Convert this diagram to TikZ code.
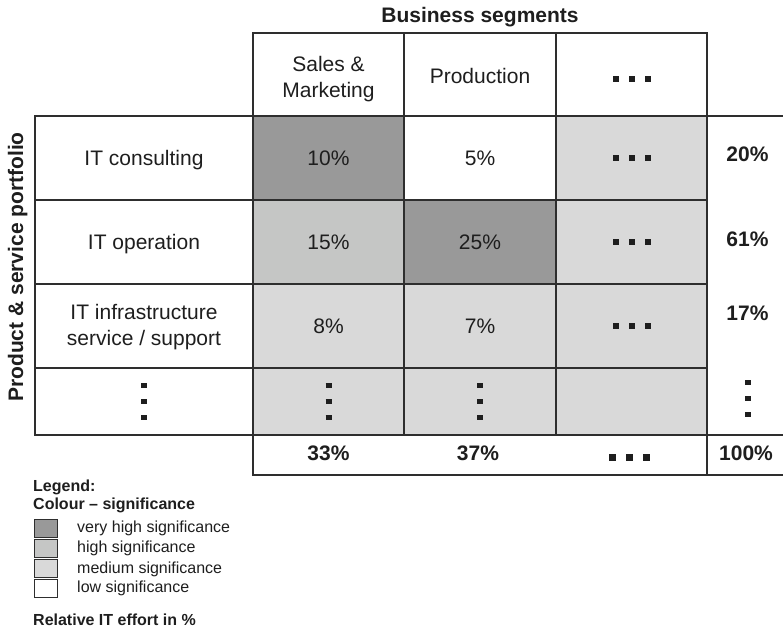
\documentclass[tikz,border=0pt]{standalone}
\usepackage{fontspec}
\setmainfont{Liberation Sans}
\definecolor{vhigh}{HTML}{999999}
\definecolor{high}{HTML}{C5C6C5}
\definecolor{med}{HTML}{D9D9D9}
\definecolor{ink}{HTML}{1E1E1E}
\definecolor{rulec}{HTML}{2E2E2E}
\newcommand\hsq[1]{\hbox{\rule{#1}{#1}\kern10pt\rule{#1}{#1}\kern10pt\rule{#1}{#1}}}
\newcommand\vsq{\vbox{\offinterlineskip\hbox{\rule{6pt}{5pt}}\kern11pt\hbox{\rule{6pt}{5pt}}\kern11pt\hbox{\rule{6pt}{5pt}}}}
\begin{document}
\begin{tikzpicture}[x=1pt,y=-1pt,
  cell/.style={draw=rulec, line width=1.2pt, inner sep=0pt, outer sep=0pt, minimum height=84pt},
  txt/.style={inner sep=0pt, text=ink, font=\fontsize{21}{26}\selectfont, text height=15pt, text depth=0pt},
  btxt/.style={txt, font=\fontsize{21}{26}\selectfont\bfseries},
  mtxt/.style={inner sep=0pt, text=ink, font=\fontsize{21}{26}\selectfont, align=center},
  dots/.style={inner sep=0pt, text=ink},
  lbox/.style={draw=rulec, line width=1pt, minimum width=23pt, minimum height=18pt, inner sep=0pt},
  ltxt/.style={inner sep=0pt, text=ink, font=\fontsize{16}{19}\selectfont, anchor=base west},
  lbtxt/.style={ltxt, font=\fontsize{16}{19}\selectfont\bfseries},
  edge/.style={draw=rulec, line width=1.2pt}]
\useasboundingbox (0,0) rectangle (783,630);

% header
\node[btxt] (title) at (480,15) {Business segments};
\node[cell, minimum width=151pt, minimum height=83pt] (h1) at (328.5,74.5) {};
\node[cell, minimum width=152pt, minimum height=83pt] (h2) at (480,74.5) {};
\node[cell, minimum width=151pt, minimum height=83pt] (h3) at (631.5,74.5) {};
\node[mtxt] (th1) at (328.5,79) {Sales \&\\Marketing};
\node[txt] (th2) at (480,75.5) {Production};
\node[dots] (th3) at (631.5,79) {\hsq{6pt}};

% left label
\node[btxt, rotate=90] (side) at (15.5,267) {Product \& service portfolio};

% row 1
\node[cell, minimum width=218pt] (l1) at (144,158) {};
\node[cell, minimum width=151pt, fill=vhigh] (c11) at (328.5,158) {};
\node[cell, minimum width=152pt] (c12) at (480,158) {};
\node[cell, minimum width=151pt, fill=med] (c13) at (631.5,158) {};
% row 2
\node[cell, minimum width=218pt] (l2) at (144,242) {};
\node[cell, minimum width=151pt, fill=high] (c21) at (328.5,242) {};
\node[cell, minimum width=152pt, fill=vhigh] (c22) at (480,242) {};
\node[cell, minimum width=151pt, fill=med] (c23) at (631.5,242) {};
% row 3
\node[cell, minimum width=218pt] (l3) at (144,326) {};
\node[cell, minimum width=151pt, fill=med] (c31) at (328.5,326) {};
\node[cell, minimum width=152pt, fill=med] (c32) at (480,326) {};
\node[cell, minimum width=151pt, fill=med] (c33) at (631.5,326) {};
% row 4
\node[cell, minimum width=218pt, minimum height=67pt] (l4) at (144,401.5) {};
\node[cell, minimum width=151pt, minimum height=67pt, fill=med] (c41) at (328.5,401.5) {};
\node[cell, minimum width=152pt, minimum height=67pt, fill=med] (c42) at (480,401.5) {};
\node[cell, minimum width=151pt, minimum height=67pt, fill=med] (c43) at (631.5,401.5) {};
% totals row
\node[cell, minimum width=454pt, minimum height=40pt] (bot) at (480,455) {};

% right column lines
\coordinate (e1) at (783,116);
\coordinate (e2) at (783,435);
\coordinate (e3) at (783,475);
\path[edge] (h3.south east) -- (e1);
\path[edge] (bot.north east) -- (e2);
\path[edge] (bot.south east) -- (e3);

% texts
\node[txt] (tl1) at (l1) {IT consulting};
\node[txt] (tl2) at (l2) {IT operation};
\node[mtxt] (tl3) at (144,327) {IT infrastructure\\service / support};
\node[dots] (tl4) at (l4) {\vsq};

\node[txt] (t11) at (c11) {10\%};
\node[txt] (t12) at (c12) {5\%};
\node[dots] (t13) at (c13) {\hsq{6pt}};
\node[txt] (t21) at (c21) {15\%};
\node[txt] (t22) at (c22) {25\%};
\node[dots] (t23) at (c23) {\hsq{6pt}};
\node[txt] (t31) at (c31) {8\%};
\node[txt] (t32) at (c32) {7\%};
\node[dots] (t33) at (c33) {\hsq{6pt}};
\node[dots] (t41) at (c41) {\vsq};
\node[dots] (t42) at (c42) {\vsq};

\node[btxt] (r1) at (747.5,154) {20\%};
\node[btxt] (r2) at (747.5,239) {61\%};
\node[btxt] (r3) at (747.5,313) {17\%};
\node[dots] (r4) at (748,398) {\vsq};

\node[btxt] (s1) at (328.5,453) {33\%};
\node[btxt] (s2) at (478,453) {37\%};
\node[dots] (s3) at (629,457) {\hsq{7pt}};
\node[btxt] (s4) at (746,453) {100\%};

% legend
\node[lbtxt] (lg1) at (33,491) {Legend:};
\node[lbtxt] (lg2) at (33,509) {Colour -- significance};
\node[lbox, fill=vhigh] (k1) at (45.5,528) {};
\node[lbox, fill=high] (k2) at (45.5,548) {};
\node[lbox, fill=med] (k3) at (45.5,568.5) {};
\node[lbox] (k4) at (45.5,588.5) {};
\node[ltxt] (kt1) at (77,532) {very high significance};
\node[ltxt] (kt2) at (77,552) {high significance};
\node[ltxt] (kt3) at (77,573) {medium significance};
\node[ltxt] (kt4) at (77,592) {low significance};
\node[lbtxt] (lg3) at (33,625) {Relative IT effort in \%};
\end{tikzpicture}
\end{document}
